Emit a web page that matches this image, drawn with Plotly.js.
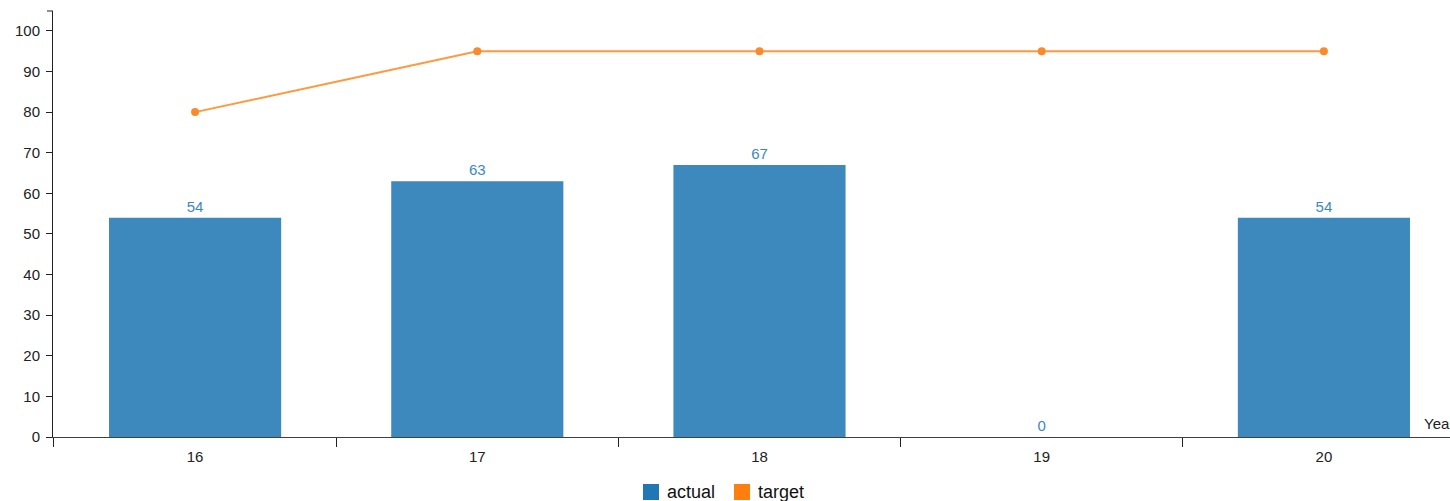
<!DOCTYPE html>
<html><head><meta charset="utf-8">
<script src="https://cdn.plot.ly/plotly-3.0.1.min.js"></script>
<style>html,body{margin:0;padding:0;overflow:hidden;background:#fff;width:1450px;height:501px}#chart{width:1480px;height:501px}</style>
</head><body><div id="chart"></div>
<script>
const categories = ['16', '17', '18', '19', '20'];
const actual = [54, 63, 67, 0, 54];
const target = [80, 95, 95, 95, 95];
const yTicks = [0, 10, 20, 30, 40, 50, 60, 70, 80, 90, 100];
const legendNames = ['actual', 'target'];
const legendColors = ['#1f77b4', '#ff7f0e'];

const barColor = '#3d89bd';
const lineColor = 'rgba(255,127,14,0.8)';
const font = 'Liberation Sans, Arial, sans-serif';

const traces = [
  {type: 'bar', x: categories, y: actual, width: 0.61, marker: {color: barColor},
   text: actual.map(String), textposition: 'outside', cliponaxis: false,
   textfont: {color: barColor, size: 15, family: font}, showlegend: false, hoverinfo: 'skip'},
  {type: 'scatter', mode: 'lines+markers', x: categories, y: target,
   line: {color: lineColor, width: 2}, marker: {color: '#fb8a2a', size: 8},
   showlegend: false, hoverinfo: 'skip'}
];

// plot area in pixels: left 53, width 1412, top 11, height 426
const PW = 1412;
const PX = p => (p - 53) / PW;
const PY = p => (437 - p) / 426;

const shapes = [
  {type: 'line', xref: 'paper', yref: 'paper', x0: PX(47), x1: PX(53), y0: 1, y1: 1,
   line: {color: '#222', width: 1}}
];
const annotations = [
  {xref: 'paper', yref: 'y', x: PX(1422), y: 0, xanchor: 'left', yanchor: 'bottom',
   yshift: 3, text: 'Year', showarrow: false, font: {size: 15, color: '#222'}}
];
const legendX = [643, 734];
legendNames.forEach((n, i) => {
  shapes.push({type: 'rect', xref: 'paper', yref: 'paper', x0: PX(legendX[i]), x1: PX(legendX[i] + 16),
    y0: PY(484), y1: PY(500), fillcolor: legendColors[i], line: {width: 0}});
  annotations.push({xref: 'paper', yref: 'paper', x: PX(legendX[i] + 22), y: PY(492),
    xanchor: 'left', yanchor: 'middle', text: n, showarrow: false,
    font: {size: 18, color: '#111'}});
});

const layout = {
  width: 1480, height: 501,
  margin: {l: 53, r: 15, t: 11, b: 64},
  paper_bgcolor: '#fff', plot_bgcolor: '#fff',
  font: {family: font, size: 15, color: '#222'},
  hovermode: false, showlegend: false,
  xaxis: {type: 'category', range: [-0.5035, 4.5], showgrid: false, zeroline: false,
    showline: true, linecolor: 'rgba(0,0,0,0.75)', linewidth: 1,
    ticks: 'outside', tickson: 'boundaries', ticklen: 9, tickcolor: '#222',
    ticklabelstandoff: 6,
    tickfont: {size: 15, color: '#222'}, fixedrange: true},
  yaxis: {range: [0, 104.9], tickvals: yTicks, showgrid: false, zeroline: false,
    showline: true, linecolor: '#222', linewidth: 1,
    ticks: 'outside', ticklen: 6, tickcolor: '#222', ticklabelstandoff: 3,
    tickfont: {size: 15, color: '#222'}, fixedrange: true},
  bargap: 0.39,
  shapes: shapes,
  annotations: annotations
};

Plotly.newPlot('chart', traces, layout, {displayModeBar: false, staticPlot: true});
</script></body></html>
